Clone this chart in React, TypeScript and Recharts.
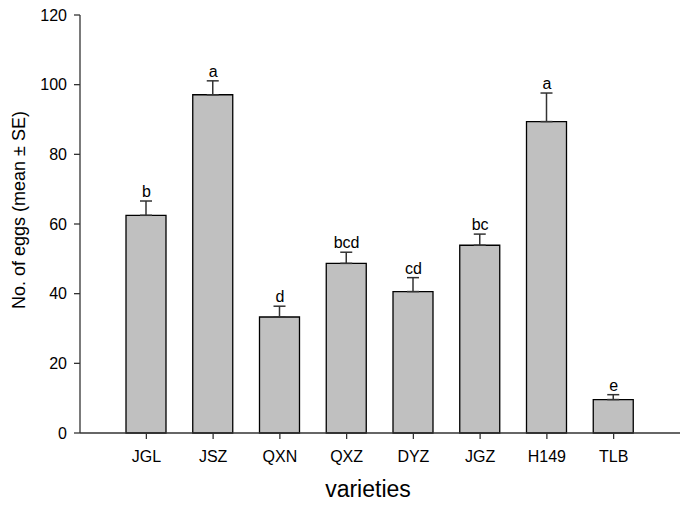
import React from "react";
import { ComposedChart, Bar, Line, XAxis, YAxis, ErrorBar, LabelList } from "recharts";

const varieties = ["JGL", "JSZ", "QXN", "QXZ", "DYZ", "JGZ", "H149", "TLB"];
const meanEggs = [62.5, 97.1, 33.3, 48.7, 40.6, 53.9, 89.4, 9.6];
const seEggs = [4.1, 4.0, 3.1, 3.2, 4.0, 3.2, 8.2, 1.4];
const groupLetters = ["b", "a", "d", "bcd", "cd", "bc", "a", "e"];
const yTicks = [0, 20, 40, 60, 80, 100, 120];

const data = varieties.map((v, i) => ({
  name: v,
  mean: meanEggs[i],
  err: [0, seEggs[i]],
  capTop: meanEggs[i] + seEggs[i],
  letter: groupLetters[i],
}));

const FONT = "'Liberation Sans', Arial, sans-serif";

const LetterLabel = (props: any) => {
  const { x, y, index } = props;
  return (
    <text x={x} y={y - 4} textAnchor="middle" fontSize={16} fontFamily={FONT} fill="#000">
      {groupLetters[index]}
    </text>
  );
};

export default function App() {
  return (
    <div style={{ position: "absolute", left: 0, top: 0, width: 688, height: 509, background: "#fff" }}>
      <ComposedChart
        width={688}
        height={509}
        data={data}
        margin={{ top: 15, right: 8, left: 0, bottom: 0 }}
      >
        <XAxis
          dataKey="name"
          height={76}
          padding={{ left: 33, right: 33 }}
          tickLine={{ stroke: "#333", strokeWidth: 1.3 }}
          axisLine={{ stroke: "#333", strokeWidth: 1.3 }}
          tickSize={6}
          tickMargin={12}
          tick={{ fill: "#000", fontSize: 16, fontFamily: FONT }}
          label={{
            value: "varieties",
            position: "insideBottom",
            offset: 12,
            dx: -12,
            fill: "#000",
            fontSize: 23,
            fontFamily: FONT,
          }}
        />
        <YAxis
          width={80}
          domain={[0, 120]}
          ticks={yTicks}
          interval={0}
          tickLine={{ stroke: "#333", strokeWidth: 1.3 }}
          axisLine={{ stroke: "#333", strokeWidth: 1.3 }}
          tickSize={6}
          tickMargin={7}
          tick={{ fill: "#000", fontSize: 16, fontFamily: FONT }}
          label={{
            content: (p: any) => {
              const vb = p.viewBox;
              const cx = 25;
              const cy = vb.y + vb.height / 2 - 14;
              return (
                <text
                  x={cx}
                  y={cy}
                  transform={`rotate(-90 ${cx} ${cy})`}
                  textAnchor="middle"
                  fontSize={18}
                  fontFamily={FONT}
                  fill="#000"
                >
                  No. of eggs (mean ± SE)
                </text>
              );
            },
          }}
        />
        <Bar dataKey="mean" barSize={40} fill="#c0c0c0" stroke="#000" strokeWidth={1.3} isAnimationActive={false}>
          <ErrorBar dataKey="err" width={6} stroke="#333" strokeWidth={1.5} direction="y" />
        </Bar>
        <Line
          dataKey="capTop"
          stroke="none"
          dot={false}
          activeDot={false}
          isAnimationActive={false}
        >
          <LabelList dataKey="letter" content={LetterLabel} />
        </Line>
      </ComposedChart>
    </div>
  );
}
